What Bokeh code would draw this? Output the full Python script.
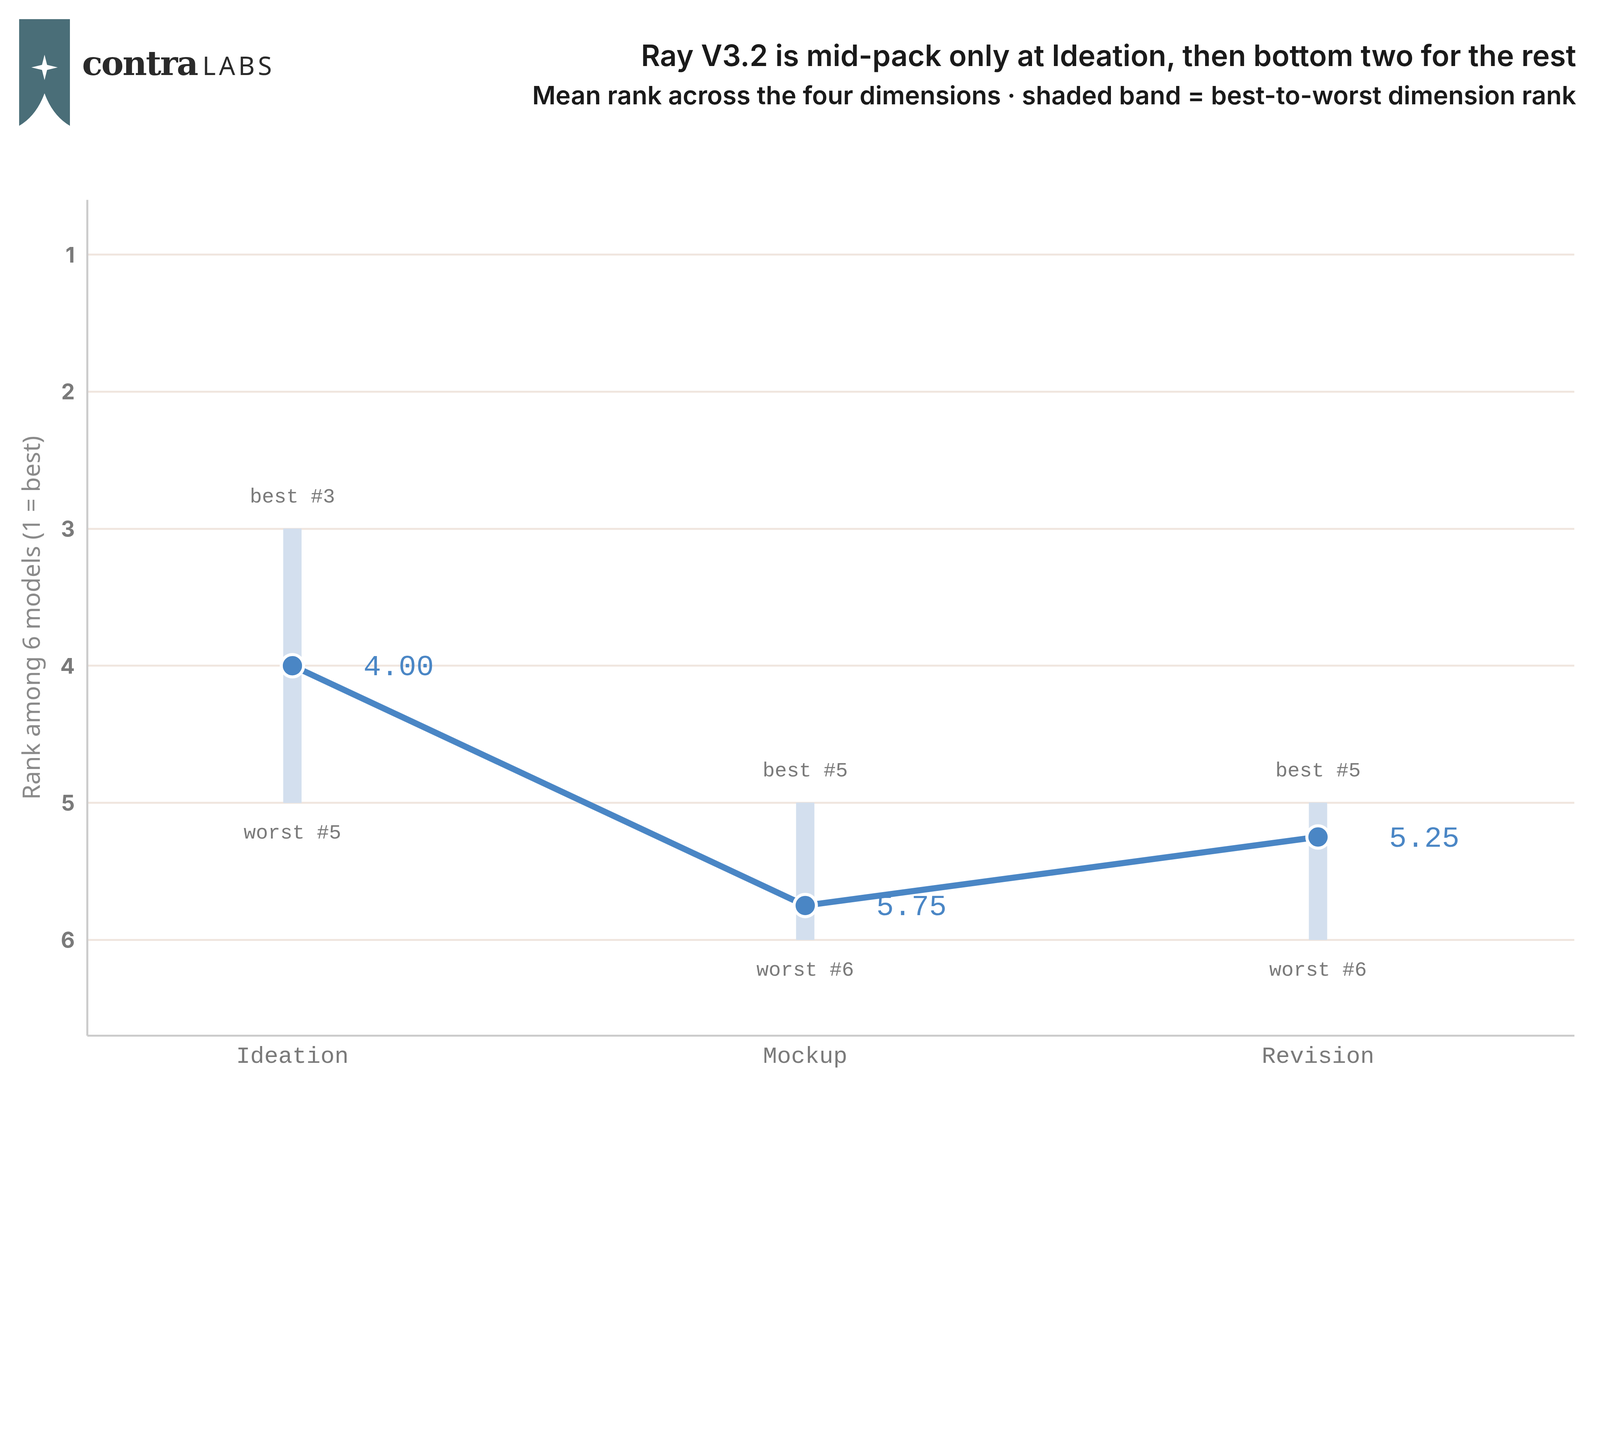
from bokeh.plotting import figure
from bokeh.layouts import column
from bokeh.models import Range1d, FixedTicker, ColumnDataSource, Div
from bokeh.core.properties import value
from bokeh.embed import file_html
from bokeh.resources import INLINE

S = 2.6
def px(v): return f"{v*S:.0f}px"

categories = ["Ideation", "Mockup", "Revision"]
mean_rank = [4.00, 5.75, 5.25]
best_rank = [3, 5, 5]
worst_rank = [5, 6, 6]
y_ticks = [1, 2, 3, 4, 5, 6]
title = "Ray V3.2 is mid-pack only at Ideation, then bottom two for the rest"
subtitle = "Mean rank across the four dimensions · shaded band = best-to-worst dimension rank"

W = int(1560 * S)
HH = int(160 * S)
PH = int(890 * S)
MONO = "Liberation Mono"
SANS = "Inter"
BLUE = "#4a86c5"
GRAY = "#7a7a7a"

logo_svg = (f'<svg width="{50*S:.0f}" height="{105*S:.0f}" viewBox="0 0 50 105">'
            '<path d="M0 0 H50 V105 Q33 95 25 73 Q17 95 0 105 Z" fill="#4a6e78"/>'
            '<path d="M25 35 L27.5 45 L38 47.5 L27.5 50 L25 60 L22.5 50 L12 47.5 L22.5 45 Z" fill="white"/>'
            '</svg>')
header_html = f"""
<div style="position:relative;width:{W}px;height:{HH}px;">
  <div style="position:absolute;left:{17*S:.0f}px;top:{17*S:.0f}px;">{logo_svg}</div>
  <div style="position:absolute;left:{79*S:.0f}px;top:{44*S:.0f}px;white-space:nowrap;line-height:1;">
    <span style="font-family:'DejaVu Serif';font-weight:bold;font-size:{px(33)};color:#2a2a2a;letter-spacing:-{1*S:.0f}px;">contra</span>
    <span style="font-family:'Noto Sans';font-size:{px(25)};color:#2a2a2a;letter-spacing:{3*S:.0f}px;margin-left:{4*S:.0f}px;">LABS</span>
  </div>
  <div style="position:absolute;right:{10*S:.0f}px;top:{32*S:.0f}px;text-align:right;white-space:nowrap;font-family:Inter;color:#1a1a1a;line-height:1.45;">
    <div style="font-weight:600;font-size:{px(29)};">{title}</div>
    <div style="font-weight:600;font-size:{px(25)};">{subtitle}</div>
  </div>
</div>
"""
header = Div(text=header_html, width=W, height=HH)

p = figure(width=W, height=PH, x_range=Range1d(-0.4, 2.5), y_range=Range1d(6.7, 0.6),
           output_backend="svg", toolbar_location=None,
           min_border_left=int(86 * S), min_border_right=int(10 * S),
           min_border_top=int(33 * S), min_border_bottom=int(33 * S))
p.outline_line_color = None
p.xgrid.visible = False
p.ygrid.ticker = FixedTicker(ticks=y_ticks)
p.ygrid.grid_line_color = "#f0e6df"
p.ygrid.grid_line_width = 2 * S
p.yaxis.ticker = FixedTicker(ticks=y_ticks)
p.xaxis.ticker = FixedTicker(ticks=list(range(len(categories))))
p.xaxis.major_label_overrides = {i: c for i, c in enumerate(categories)}
for ax in (p.xaxis[0], p.yaxis[0]):
    ax.axis_line_color = "#cccccc"
    ax.axis_line_width = 2 * S
    ax.major_tick_line_color = None
    ax.minor_tick_line_color = None
    ax.major_label_text_color = GRAY
p.xaxis.major_label_text_font = MONO
p.xaxis.major_label_text_font_size = px(23)
p.xaxis.major_label_standoff = int(5 * S)
p.yaxis.major_label_text_font = SANS
p.yaxis.major_label_text_font_style = "bold"
p.yaxis.major_label_text_font_size = px(21)
p.yaxis.major_label_standoff = int(10 * S)
p.yaxis.axis_label = "Rank among 6 models (1 = best)"
p.yaxis.axis_label_text_font = "Noto Sans"
p.yaxis.axis_label_text_font_style = "normal"
p.yaxis.axis_label_text_font_size = px(24)
p.yaxis.axis_label_text_color = "#8a8a8a"
p.yaxis.axis_label_standoff = int(12 * S)

xs = list(range(len(categories)))
src = ColumnDataSource(dict(x=xs, mean=mean_rank, best=best_rank, worst=worst_rank,
                            mlab=[f"{m:.2f}" for m in mean_rank],
                            blab=[f"best #{b}" for b in best_rank],
                            wlab=[f"worst #{w}" for w in worst_rank]))
p.vbar(x="x", top="best", bottom="worst", width=0.035, color="#d3dfee", source=src)
p.line("x", "mean", source=src, color=BLUE, line_width=6 * S)
p.scatter("x", "mean", source=src, size=22 * S, fill_color=BLUE, line_color="white", line_width=3 * S)
p.text("x", "mean", text="mlab", source=src, x_offset=70 * S, text_font=value(MONO),
       text_font_size=px(29), text_color=BLUE, text_baseline="middle")
p.text("x", "best", text="blab", source=src, y_offset=-31 * S, text_font=value(MONO),
       text_font_size=px(20), text_color=GRAY, text_align="center", text_baseline="middle")
p.text("x", "worst", text="wlab", source=src, y_offset=30 * S, text_font=value(MONO),
       text_font_size=px(20), text_color=GRAY, text_align="center", text_baseline="middle")

layout = column(header, p, spacing=0)
open("out.html", "w").write(file_html(layout, INLINE))
